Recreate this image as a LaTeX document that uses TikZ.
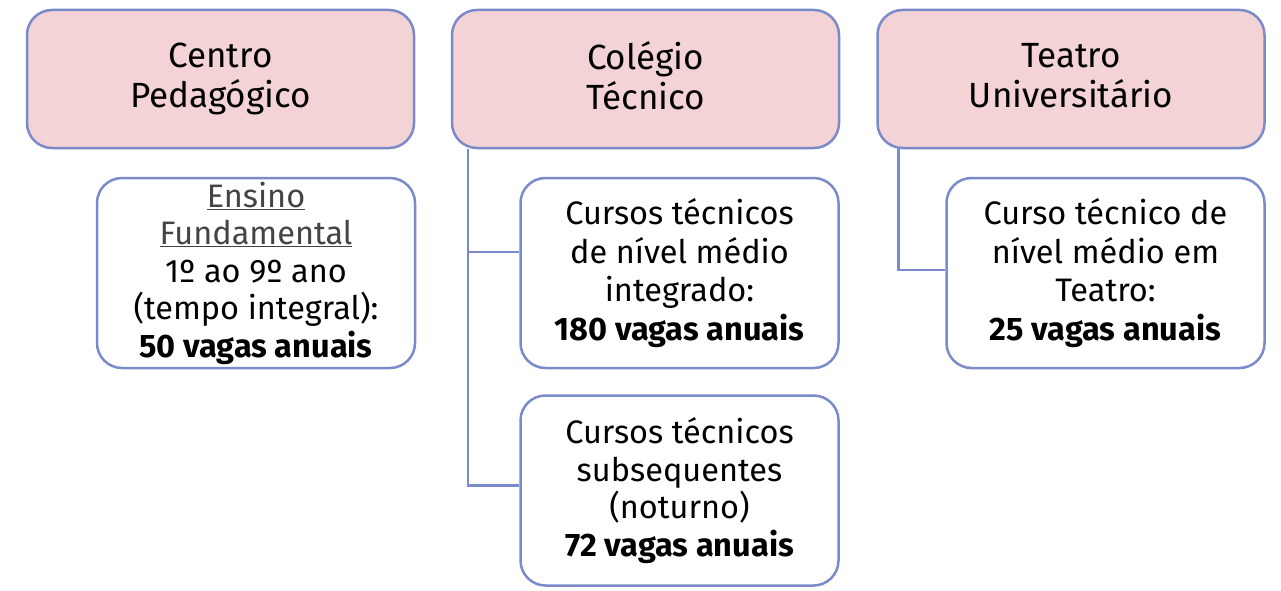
\documentclass[tikz,border=0pt]{standalone}
\usepackage{fontspec}
\setmainfont{Fira Sans}
\usepackage{xcolor}
\definecolor{boxline}{HTML}{7B8BC9}
\definecolor{boxpink}{HTML}{F4D3D6}
\definecolor{headgray}{HTML}{444444}

\begin{document}
\begin{tikzpicture}[x=1pt,y=-1pt,
    unit/.style={draw=boxline, line width=2.5pt, fill=boxpink, rounded corners=25pt,
        minimum width=387pt, minimum height=138pt, align=center,
        font=\fontsize{35}{40}\selectfont, execute at end node={\vphantom{g}}},
    offer/.style={draw=boxline, line width=2.5pt, fill=white, rounded corners=25pt,
        minimum width=318pt, minimum height=190pt, align=center,
        font=\fontsize{32.5}{37.5}\selectfont},
    wide/.style={font=\fontsize{32.5}{38.5}\selectfont},
    link/.style={draw=boxline, line width=2.5pt}]
    \useasboundingbox (0,0) rectangle (1281,591);

    % unidades
    \node[unit] (centro) at (220.5,79) {Centro\\Pedagógico};
    \node[unit] (colegio) at (645.5,79) {Colégio\\Técnico};
    \node[unit] (teatro) at (1071,79) {Teatro\\Universitário};

    % vagas
    \node[offer] (fundamental) at (256,273)
        {{\color{headgray}\underline{Ensino}}\\{\color{headgray}\underline{Fundamental}}\\1º ao 9º ano\\(tempo integral):\\\textbf{50 vagas anuais}};
    \node[offer, wide] (integrado) at (679.5,273)
        {Cursos técnicos\\de nível médio\\integrado:\\\textbf{180 vagas anuais}};
    \node[offer] (subsequente) at (679.5,490.5)
        {Cursos técnicos\\subsequentes\\(noturno)\\\textbf{72 vagas anuais}};
    \node[offer, wide] (teatrocurso) at (1105.5,273)
        {Curso técnico de\\nível médio em\\Teatro:\\\textbf{25 vagas anuais}};

    % ligacoes
    \coordinate (ctronco) at ([xshift=17pt]colegio.south west);
    \coordinate (ttronco) at ([xshift=22pt]teatro.south west);
    \draw[link] (ctronco) |- ([yshift=21pt]integrado.west);
    \draw[link] (ctronco) |- ([yshift=5pt]subsequente.west);
    \draw[link] (ttronco) |- ([yshift=3pt]teatrocurso.west);
\end{tikzpicture}
\end{document}
